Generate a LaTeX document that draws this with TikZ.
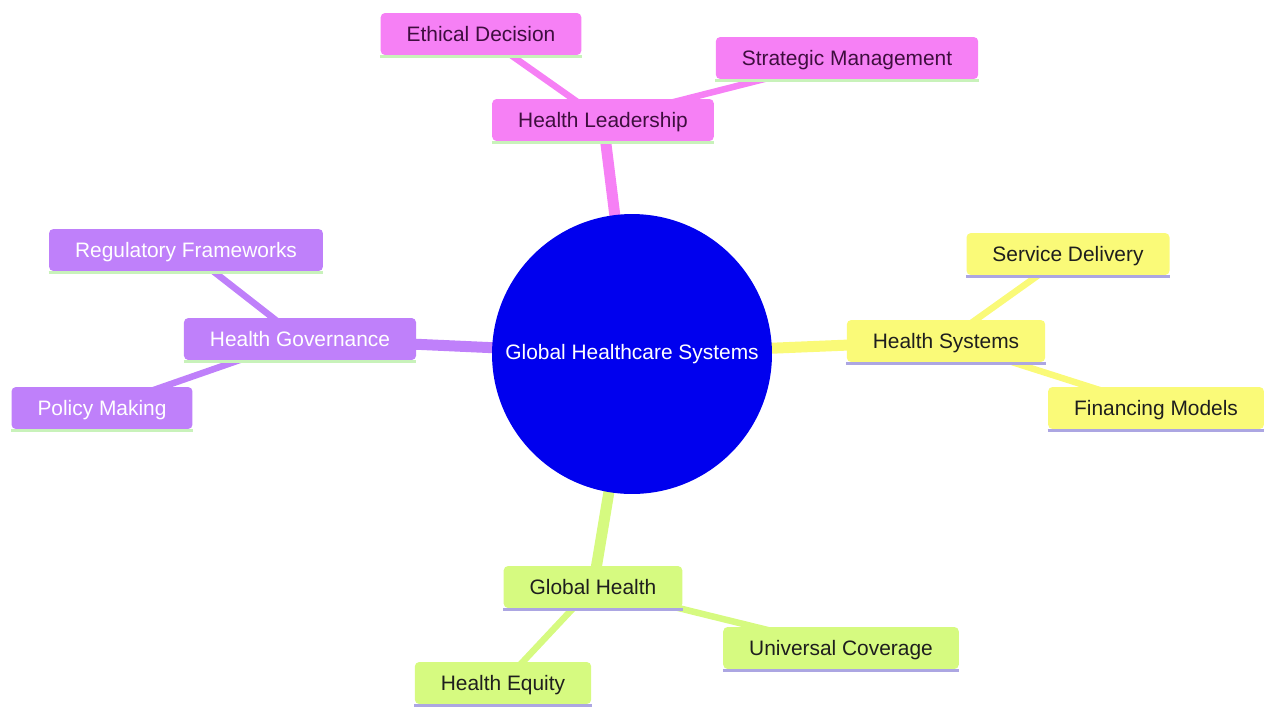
\documentclass[tikz,border=0pt]{standalone}
\usepackage{fontspec}
\setmainfont{Liberation Sans}
\usetikzlibrary{backgrounds}
\definecolor{RootClr}{RGB}{0,0,238}
\definecolor{LeadClr}{RGB}{246,128,245}
\definecolor{LeadTxtClr}{RGB}{62,14,62}
\definecolor{SysClr}{RGB}{250,250,120}
\definecolor{GovClr}{RGB}{191,128,250}
\definecolor{GloClr}{RGB}{214,250,128}
\definecolor{DarkTxtClr}{RGB}{30,30,30}
\definecolor{GreenLineClr}{RGB}{200,242,186}
\definecolor{LilacLineClr}{RGB}{172,166,226}

\begin{document}
\begin{tikzpicture}[x=0.02cm,y=-0.02cm,
  box/.style={rectangle,rounded corners=2.5pt,inner xsep=0.52cm,inner ysep=0pt,
    minimum height=0.84cm,text height=9.7pt,text depth=1.5pt,
    font=\fontsize{11.9}{14}\selectfont},
  rootnode/.style={circle,fill=RootClr,text=white,minimum size=5.6cm,inner sep=0pt,
    font=\fontsize{11.9}{14}\selectfont},
  branch/.style={line width=0.22cm},
  leaf/.style={line width=0.13cm},
  underline/.style={line width=0.06cm}]
\useasboundingbox (0,0) rectangle (1266,707);

% centre
\node[rootnode] (root) at (632,354) {Global Healthcare Systems};

% leadership
\node[box,fill=LeadClr,text=LeadTxtClr] (lead)  at (603,120) {Health Leadership};
\node[box,fill=LeadClr,text=LeadTxtClr] (ethic) at (481,34)  {Ethical Decision};
\node[box,fill=LeadClr,text=LeadTxtClr] (strat) at (847,58)  {Strategic Management};

% systems
\node[box,fill=SysClr,text=DarkTxtClr] (sys)  at (946,341)  {Health Systems};
\node[box,fill=SysClr,text=DarkTxtClr] (serv) at (1068,254) {Service Delivery};
\node[box,fill=SysClr,text=DarkTxtClr] (fin)  at (1156,408) {Financing Models};

% governance
\node[box,fill=GovClr,text=white] (gov) at (300,339) {Health Governance};
\node[box,fill=GovClr,text=white] (reg) at (186,250) {Regulatory Frameworks};
\node[box,fill=GovClr,text=white] (pol) at (102,408) {Policy Making};

% global health
\node[box,fill=GloClr,text=DarkTxtClr] (glo)  at (593,587) {Global Health};
\node[box,fill=GloClr,text=DarkTxtClr] (univ) at (841,648) {Universal Coverage};
\node[box,fill=GloClr,text=DarkTxtClr] (equ)  at (503,683) {Health Equity};

\foreach \n in {lead,ethic,strat,gov,reg,pol}
  \draw[underline,GreenLineClr] ([yshift=-0.8pt]\n.south west) -- ([yshift=-0.8pt]\n.south east);
\foreach \n in {sys,serv,fin,glo,univ,equ}
  \draw[underline,LilacLineClr] ([yshift=-0.8pt]\n.south west) -- ([yshift=-0.8pt]\n.south east);

\begin{scope}[on background layer]
\draw[branch,LeadClr] (root.center) -- (lead.center);
\draw[branch,SysClr]  (root.center) -- (sys.center);
\draw[branch,GovClr]  (root.center) -- (gov.center);
\draw[branch,GloClr]  (root.center) -- (glo.center);
\draw[leaf,LeadClr] (lead.center) -- (ethic.center);
\draw[leaf,LeadClr] (lead.center) -- (strat.center);
\draw[leaf,SysClr]  (sys.center) -- (serv.center);
\draw[leaf,SysClr]  (sys.center) -- (fin.center);
\draw[leaf,GovClr]  (gov.center) -- (reg.center);
\draw[leaf,GovClr]  (gov.center) -- (pol.center);
\draw[leaf,GloClr]  (glo.center) -- (univ.center);
\draw[leaf,GloClr]  (glo.center) -- (equ.center);
\end{scope}

\end{tikzpicture}
\end{document}
